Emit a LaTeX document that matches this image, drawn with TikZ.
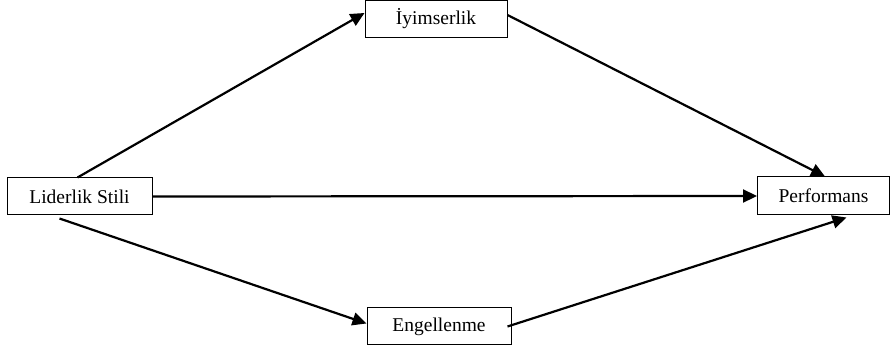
\documentclass[tikz,border=0pt]{standalone}
\usepackage{fontspec}
\setmainfont{Liberation Serif}
\usetikzlibrary{arrows.meta,calc}
\begin{document}
\begin{tikzpicture}[x=1pt,y=-1pt,
  box/.style={draw=black,line width=1pt,fill=white,inner sep=0pt,font=\fontsize{19.5}{22}\selectfont},
  conn/.style={line width=2.2pt,-{Triangle[length=14pt,width=13pt]}}]
\useasboundingbox (0,0) rectangle (891,352);
\node[box,minimum width=142pt,minimum height=37pt] (iyi) at (436,19) {İyimserlik};
\node[box,minimum width=145pt,minimum height=37pt] (lid) at (79.5,196.5) {Liderlik Stili};
\node[box,minimum width=132pt,minimum height=38pt] (per) at (823.5,196) {Performans};
\node[box,minimum width=144pt,minimum height=37pt] (eng) at (439,326.5) {Engellenme};
\draw[conn] ($(lid.north west)+(71,0)$) -- ($(iyi.west)+(0,-6)$);
\draw[conn] ($(lid.south west)+(53,3)$) -- ($(eng.west)+(0,-3)$);
\draw[conn] (lid.east) -- (per.west);
\draw[conn] ($(iyi.east)+(0,-4)$) -- ($(per.north)+(1.5,0)$);
\draw[conn] ($(eng.east)+(-4,0)$) -- ($(per.south)+(23,2)$);
\end{tikzpicture}
\end{document}
